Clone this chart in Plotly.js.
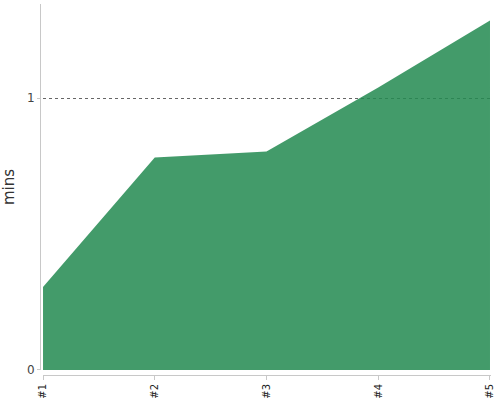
<!DOCTYPE html>
<html>
<head>
<meta charset="utf-8">
<script src="https://cdn.plot.ly/plotly-3.0.1.min.js"></script>
<style>
  body { margin: 0; }
  #graphDiv { width: 500px; height: 400px; }
</style>
</head>
<body>
<div id="graphDiv"></div>
<script>
'use strict';

const runLabels = ["#1", "#2", "#3", "#4", "#5"];
const runMins = [0.305, 0.782, 0.804, 1.04, 1.286];
const yTicks = [0, 1];
const gridTicks = [1];

// slightly see-through so the dotted grid line shows through the area
let trace = {
  type: "scatter",
  mode: "none",
  x: runLabels,
  y: runMins,
  fill: "tozeroy",
  fillcolor: "rgba(36,139,82,0.86)",
  hoverinfo: "x+y"
};

// empty trace just to carry the grid axis
let gridTrace = {
  type: "scatter",
  mode: "none",
  x: [],
  y: [],
  yaxis: "y2",
  hoverinfo: "skip"
};

const yRange = [0, 1.347];

let layout = {
  width: 500,
  height: 400,
  margin: { l: 40, r: 9, t: 4, b: 25 },
  paper_bgcolor: "#fff",
  plot_bgcolor: "#fff",
  showlegend: false,
  font: { family: "DejaVu Sans, sans-serif", color: "#444" },
  xaxis: {
    type: "category",
    domain: [0.0067, 1],
    range: [0, 4.009],
    anchor: "free",
    position: 0,
    showgrid: false,
    zeroline: false,
    showline: true,
    linecolor: "#c8c8c8",
    ticks: "outside",
    ticklen: 4,
    tickcolor: "#c8c8c8",
    tickangle: -90,
    tickfont: { size: 10, color: "#222" }
  },
  yaxis: {
    domain: [0.0135, 1],
    range: yRange,
    anchor: "free",
    position: 0,
    tickvals: yTicks,
    ticktext: yTicks.map(String),
    showgrid: false,
    zeroline: false,
    showline: true,
    linecolor: "#c8c8c8",
    ticks: "outside",
    ticklen: 3,
    tickcolor: "#c8c8c8",
    tickfont: { size: 12, color: "#444" },
    title: { text: "mins", font: { size: 15, color: "#333" } }
  },
  yaxis2: {
    domain: [0.0135, 1],
    range: yRange,
    overlaying: "y",
    anchor: "x",
    tickvals: gridTicks,
    showticklabels: false,
    ticks: "",
    showgrid: true,
    gridcolor: "#666",
    griddash: "dot",
    gridwidth: 1,
    zeroline: false,
    showline: false
  }
};

Plotly.newPlot("graphDiv", [gridTrace, trace], layout, { displayModeBar: false, staticPlot: true });
</script>
</body>
</html>
